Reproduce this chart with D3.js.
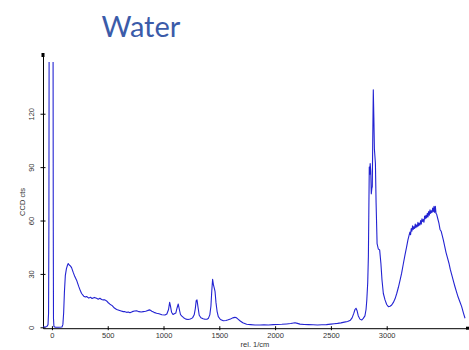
<!DOCTYPE html>
<html>
<head>
<meta charset="utf-8">
<script src="https://cdn.jsdelivr.net/npm/d3@7"></script>
<style>
  body { margin: 0; background: #fff; }
  svg { display: block; }
</style>
</head>
<body>
<div id="chart"></div>
<script>
// Spectrum
// ================================
var wavenumbers = [
  -80, -60, -45, -35, -30, -27, -25, 10, 12, 14, 18, 30, 60, 90, 98, 105, 112, 120, 130, 140,
  146, 155, 165, 176, 190, 205, 221, 240, 255, 266, 285, 300, 311, 330, 345, 360, 380, 400, 415, 430,
  445, 460, 475, 490, 505, 520, 540, 560, 580, 600, 620, 640, 654, 670, 685, 699, 720, 740, 759, 780,
  800, 818, 840, 860, 878, 895, 915, 938, 960, 985, 1013, 1030, 1045, 1055, 1062, 1072, 1085, 1093, 1110, 1122,
  1132, 1142, 1152, 1162, 1180, 1200, 1220, 1240, 1260, 1275, 1285, 1293, 1300, 1310, 1320, 1335, 1355, 1371, 1390, 1401,
  1415, 1425, 1433, 1440, 1447, 1455, 1462, 1470, 1480, 1491, 1510, 1536, 1560, 1580, 1600, 1620, 1640, 1655, 1670, 1685,
  1710, 1745, 1780, 1820, 1864, 1900, 1940, 1983, 2020, 2060, 2103, 2140, 2178, 2200, 2223, 2260, 2300, 2340, 2380, 2420,
  2460, 2500, 2530, 2560, 2590, 2620, 2650, 2675, 2690, 2705, 2716, 2725, 2735, 2745, 2760, 2776, 2790, 2805, 2815, 2822,
  2830, 2836, 2840, 2844, 2848, 2852, 2857, 2862, 2867, 2871, 2875, 2880, 2885, 2890, 2899, 2905, 2914, 2925, 2937, 2948,
  2958, 2970, 2985, 3000, 3015, 3030, 3045, 3060, 3075, 3090, 3105, 3120, 3134, 3150, 3165, 3179, 3190, 3200, 3208, 3214,
  3220, 3226, 3232, 3238, 3244, 3250, 3256, 3262, 3268, 3274, 3280, 3286, 3292, 3298, 3304, 3310, 3316, 3322, 3328, 3334,
  3340, 3346, 3352, 3358, 3364, 3370, 3376, 3382, 3388, 3394, 3400, 3406, 3412, 3418, 3424, 3430, 3436, 3442, 3448, 3458,
  3468, 3478, 3488, 3498, 3508, 3520, 3532, 3545, 3558, 3570, 3585, 3600, 3612, 3625, 3640, 3655, 3672, 3688, 3702
];

var counts = [
  0.3, 0.2, 0.5, 1.5, 8, 60, 170, 170, 60, 5, 0.5, 0, 0, 0.2, 1.5, 8, 20, 29, 33, 35,
  35.8, 35, 34.5, 33.5, 31, 28.5, 26.5, 23, 20.5, 19, 17.5, 17, 17.3, 16.4, 16.9, 16.2, 16.8, 16.3, 15.8, 16.3,
  15.6, 15.4, 15.4, 14.8, 13.8, 13, 12.2, 10.8, 10, 9.6, 9.2, 8.8, 8.8, 8.4, 8.6, 8.2, 8.8, 9.2, 9.3, 8.8,
  8.6, 8.8, 9.0, 9.5, 9.8, 9.0, 8.4, 7.9, 7.6, 7.1, 6.9, 7.5, 10, 14, 12, 8.5, 7.2, 7.5, 8, 11,
  13.1, 10, 7.2, 6.4, 5.4, 4.6, 4.4, 4.7, 5.3, 7, 10.5, 15, 15.4, 11, 6.8, 5.4, 4.8, 4.5, 4.6, 4.9,
  7, 12, 21, 27, 24, 22, 20, 14, 9, 6, 4.4, 3.7, 3.8, 4.2, 4.7, 5.3, 5.6, 5.3, 4.5, 3.7,
  2.6, 1.7, 1.5, 1.3, 1.3, 1.4, 1.3, 1.5, 1.6, 1.7, 1.9, 2.1, 2.6, 2.2, 1.8, 1.6, 1.5, 1.4, 1.3, 1.4,
  1.5, 1.8, 2.0, 2.2, 2.5, 2.9, 3.3, 4.0, 5.3, 7.8, 10, 10.7, 9.3, 6.5, 4.6, 4.1, 5, 6.4, 10, 15.5,
  25, 40, 65, 90, 86, 92, 88, 75, 78, 79, 105, 133.5, 118, 100, 92, 70, 47, 44, 43.5, 36,
  26.6, 19, 15.4, 12.8, 11.6, 11.8, 12.5, 14, 16, 19, 22.5, 26.5, 30.4, 36, 41, 45.3, 49, 51.5, 53.5, 52,
  55.5, 54, 57, 55, 56.5, 55.5, 58, 56, 57.5, 56.5, 59, 57, 58.5, 57.5, 60, 58, 61, 59.5, 60.5, 59,
  62.5, 61, 63, 61.5, 64, 62, 65, 63, 66, 64, 65.5, 64.5, 67, 65, 68, 64.5, 68, 64, 63.5, 61,
  58.5, 55, 54, 51.5, 49, 45.5, 42, 39, 36, 32.5, 29, 25.5, 22.8, 20, 17, 14.5, 11.6, 8, 5.1
];

var xTicks = [0, 500, 1000, 1500, 2000, 2500, 3000];
var yTicks = [0, 30, 60, 90, 120];

var data = wavenumbers.map(function (w, i) { return { w: w, v: counts[i] }; });

// Set up chart
// ================================
var svgWidth = 469;
var svgHeight = 350;

var svg = d3.select("#chart")
  .append("svg")
  .attr("width", svgWidth)
  .attr("height", svgHeight);

// slide title
svg.append("text")
  .attr("x", 101.5)
  .attr("y", 37)
  .attr("font-family", "Lato, 'Open Sans', sans-serif")
  .attr("font-size", "29px")
  .attr("fill", "#3b5ba9")
  .text("Water");

var x = d3.scaleLinear()
  .domain([-80, 3726])
  .range([43, 467.7]);

var y = d3.scaleLinear()
  .domain([-0.5, 153])
  .range([328.2, 55]);

var tickFont = "'Liberation Sans', Arial, sans-serif";

// x axis
var xAxis = svg.append("g")
  .attr("transform", "translate(0, 328.2)")
  .call(d3.axisBottom(x).tickValues(xTicks).tickFormat(d3.format("d"))
    .tickSizeInner(2).tickSizeOuter(0).tickPadding(2));
xAxis.selectAll(".tick line").attr("y1", -2);
xAxis.selectAll("text")
  .attr("font-family", tickFont)
  .attr("font-size", "7.5px")
  .attr("fill", "#333");

// y axis
var yAxis = svg.append("g")
  .attr("transform", "translate(43, 0)")
  .call(d3.axisLeft(y).tickValues(yTicks).tickFormat(d3.format("d"))
    .tickSizeInner(2.5).tickSizeOuter(0));
yAxis.selectAll(".tick line").attr("x1", 2.5);
yAxis.selectAll(".tick text")
  .attr("font-family", tickFont)
  .attr("font-size", "7.5px")
  .attr("fill", "#333")
  .attr("text-anchor", "middle")
  .attr("x", 0)
  .attr("dy", 0)
  .attr("transform", "translate(-9, 0) rotate(-90)");

svg.selectAll(".domain").attr("stroke", "#000");

// end markers
svg.append("rect").attr("x", 41.5).attr("y", 53).attr("width", 3).attr("height", 4).attr("fill", "#000");
svg.append("rect").attr("x", 466).attr("y", 326.7).attr("width", 3).attr("height", 3).attr("fill", "#000");

// the laser line runs off the top, so clip it
svg.append("clipPath")
  .attr("id", "plot-clip")
  .append("rect")
  .attr("x", 43)
  .attr("y", 62)
  .attr("width", 430)
  .attr("height", 270);

// spectrum
var line = d3.line()
  .x(d => x(d.w))
  .y(d => y(d.v));

svg.append("path")
  .datum(data)
  .attr("d", line)
  .attr("clip-path", "url(#plot-clip)")
  .attr("fill", "none")
  .attr("stroke", "#2323d2")
  .attr("stroke-width", 1.1)
  .attr("stroke-linejoin", "round");

// axis titles
svg.append("text")
  .attr("transform", "translate(25, 202) rotate(-90)")
  .attr("text-anchor", "middle")
  .attr("font-family", tickFont)
  .attr("font-size", "7.5px")
  .attr("fill", "#333")
  .text("CCD cts");

svg.append("text")
  .attr("x", 255)
  .attr("y", 347)
  .attr("text-anchor", "middle")
  .attr("font-family", tickFont)
  .attr("font-size", "7.5px")
  .attr("fill", "#333")
  .text("rel. 1/cm");
</script>
</body>
</html>
